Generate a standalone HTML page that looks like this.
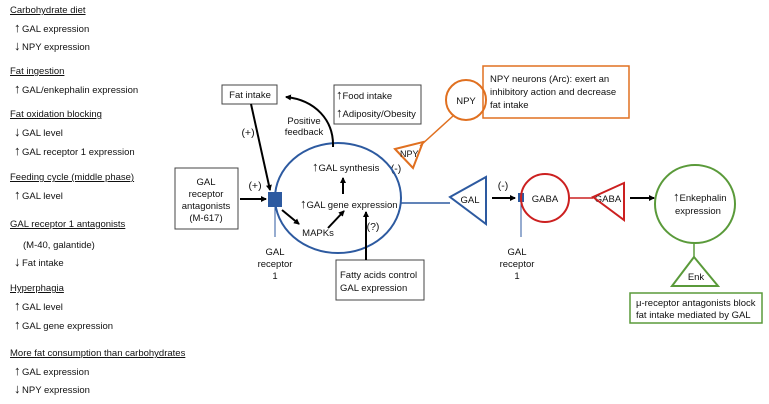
<!DOCTYPE html>
<html><head><style>
body{margin:0;background:#fff;width:769px;height:404px;overflow:hidden;font-family:"Liberation Sans",sans-serif;}
.l{position:absolute;font-size:9.5px;color:#111;white-space:nowrap}
.u{text-decoration:underline}
.a{font-weight:bold;font-size:13px;line-height:9px;display:inline-block;width:8px}
</style></head><body>
<div class="l u" style="left:10px;top:5px">Carbohydrate diet</div>
<div class="l" style="left:14px;top:23px"><span class="a">↑</span>GAL expression</div>
<div class="l" style="left:14px;top:41px"><span class="a">↓</span>NPY expression</div>
<div class="l u" style="left:10px;top:66px">Fat ingestion</div>
<div class="l" style="left:14px;top:84px"><span class="a">↑</span>GAL/enkephalin expression</div>
<div class="l u" style="left:10px;top:109px">Fat oxidation blocking</div>
<div class="l" style="left:14px;top:127px"><span class="a">↓</span>GAL level</div>
<div class="l" style="left:14px;top:146px"><span class="a">↑</span>GAL receptor 1 expression</div>
<div class="l u" style="left:10px;top:172px">Feeding cycle (middle phase)</div>
<div class="l" style="left:14px;top:190px"><span class="a">↑</span>GAL level</div>
<div class="l u" style="left:10px;top:219px">GAL receptor 1 antagonists</div>
<div class="l" style="left:23px;top:240px">(M-40, galantide)</div>
<div class="l" style="left:14px;top:257px"><span class="a">↓</span>Fat intake</div>
<div class="l u" style="left:10px;top:283px">Hyperphagia</div>
<div class="l" style="left:14px;top:301px"><span class="a">↑</span>GAL level</div>
<div class="l" style="left:14px;top:320px"><span class="a">↑</span>GAL gene expression</div>
<div class="l u" style="left:10px;top:348px">More fat consumption than carbohydrates</div>
<div class="l" style="left:14px;top:366px"><span class="a">↑</span>GAL expression</div>
<div class="l" style="left:14px;top:384px"><span class="a">↓</span>NPY expression</div>

<svg width="769" height="404" style="position:absolute;left:0;top:0" font-family="Liberation Sans, sans-serif" font-size="9.5">
<defs><marker id="a" markerWidth="6" markerHeight="6" refX="5" refY="3" orient="auto" markerUnits="userSpaceOnUse"><path d="M0,0L6,3L0,6z" fill="#000"/></marker></defs>
<g fill="#fff" stroke="#444" stroke-width="1">
<rect x="175" y="168" width="63" height="61"/>
<rect x="222" y="85" width="55" height="19"/>
<rect x="334" y="85" width="87" height="39"/>
<rect x="336" y="260" width="88" height="40"/>
</g>
<g text-anchor="middle" fill="#111">
<text x="206" y="185">GAL</text><text x="206" y="197">receptor</text><text x="206" y="209">antagonists</text><text x="206" y="221">(M-617)</text>
<text x="250" y="98">Fat intake</text>
<text x="304" y="124">Positive</text><text x="304" y="135">feedback</text>
<text x="275" y="255">GAL</text><text x="275" y="267">receptor</text><text x="275" y="279">1</text>
<text x="517" y="255">GAL</text><text x="517" y="267">receptor</text><text x="517" y="279">1</text>
<text x="255" y="189" font-size="10.5">(+)</text><text x="248" y="136" font-size="10.5">(+)</text>
<text x="396" y="172" font-size="10.5">(-)</text><text x="503" y="189" font-size="10.5">(-)</text>
<text x="373" y="230" font-size="10.5">(?)</text>
<text x="318" y="236">MAPKs</text>
<text x="466" y="104">NPY</text>
<text x="470" y="203">GAL</text>
<text x="545" y="202">GABA</text>
<text x="608" y="202">GABA</text>
<text x="696" y="280">Enk</text>
</g>
<g fill="#111">
<text x="336" y="99"><tspan font-weight="bold" font-size="13">↑</tspan>Food intake</text><text x="336" y="117"><tspan font-weight="bold" font-size="13">↑</tspan>Adiposity/Obesity</text>
<text x="340" y="278">Fatty acids control</text><text x="340" y="291">GAL expression</text>
<text x="312" y="171"><tspan font-weight="bold" font-size="13">↑</tspan>GAL synthesis</text>
<text x="300" y="208"><tspan font-weight="bold" font-size="13">↑</tspan>GAL gene expression</text>
<text x="673" y="201"><tspan font-weight="bold" font-size="13">↑</tspan>Enkephalin</text><text x="675" y="214">expression</text>
<text x="490" y="82">NPY neurons (Arc): exert an</text><text x="490" y="95">inhibitory action and decrease</text><text x="490" y="108">fat intake</text>
<text x="636" y="306">μ-receptor antagonists block</text><text x="636" y="318">fat intake mediated by GAL</text>
</g>
<rect x="483" y="66" width="146" height="52" fill="none" stroke="#e07020" stroke-width="1.5"/>
<rect x="630" y="293" width="132" height="30" fill="none" stroke="#5a9a3a" stroke-width="1.5"/>
<ellipse cx="338" cy="198" rx="63" ry="55" fill="none" stroke="#2d5aa0" stroke-width="2"/>
<line x1="275" y1="200" x2="275" y2="237" stroke="#2d5aa0"/>
<rect x="268" y="192" width="14" height="15" fill="#2d5aa0"/>
<line x1="401" y1="203" x2="450" y2="203" stroke="#2d5aa0" stroke-width="1.5"/>
<polygon points="450,197 486,177 486,224" fill="none" stroke="#2d5aa0" stroke-width="2"/>
<line x1="521" y1="200" x2="521" y2="237" stroke="#2d5aa0"/>
<rect x="518" y="193" width="6" height="9" fill="#2d5aa0"/>
<circle cx="545" cy="198" r="24" fill="none" stroke="#cc2020" stroke-width="2"/>
<line x1="569" y1="198" x2="593" y2="198" stroke="#cc2020" stroke-width="1.5"/>
<polygon points="593,197 624,183 624,220" fill="none" stroke="#cc2020" stroke-width="2"/>
<circle cx="466" cy="100" r="20" fill="none" stroke="#e07020" stroke-width="2"/>
<line x1="453" y1="116" x2="420" y2="146" stroke="#e07020" stroke-width="1.5"/>
<polygon points="395,149 423,142 413,168" fill="none" stroke="#e07020" stroke-width="2"/>
<text x="400" y="157" fill="#111" font-size="9">NPY</text>
<ellipse cx="695" cy="204" rx="40" ry="39" fill="none" stroke="#5a9a3a" stroke-width="2"/>
<line x1="694" y1="243" x2="694" y2="257" stroke="#5a9a3a" stroke-width="1.5"/>
<polygon points="694,257 718,286 672,286" fill="none" stroke="#5a9a3a" stroke-width="2"/>
<g stroke="#000" stroke-width="2" fill="none" marker-end="url(#a)">
<line x1="240" y1="199" x2="266" y2="199"/>
<line x1="251" y1="104" x2="270" y2="190"/>
<path d="M333,147 C334,120 315,100 286,97"/>
<line x1="282" y1="210" x2="299" y2="224"/>
<line x1="328" y1="228" x2="344" y2="211"/>
<line x1="343" y1="194" x2="343" y2="178"/>
<line x1="366" y1="260" x2="366" y2="212"/>
<line x1="492" y1="198" x2="515" y2="198"/>
<line x1="630" y1="198" x2="654" y2="198"/>
</g>
</svg>
</body></html>
